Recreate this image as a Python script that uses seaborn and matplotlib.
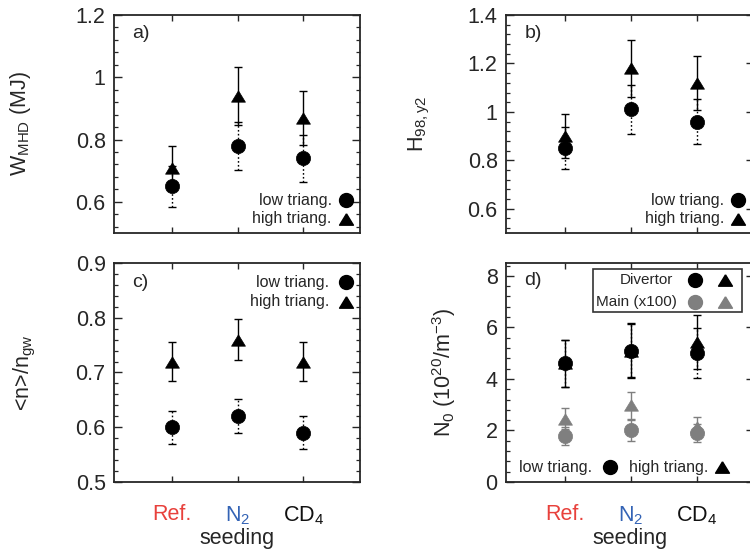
import numpy as np
import pandas as pd
import matplotlib
matplotlib.use("Agg")
import matplotlib.pyplot as plt
from matplotlib.ticker import FuncFormatter, AutoMinorLocator, MultipleLocator
from matplotlib.patches import Rectangle
import seaborn as sns

# ---------------- data ----------------
categories = ["Ref.", "N$_2$", "CD$_4$"]
cat_colors = ["#e8413c", "#3363b5", "#111111"]

wmhd_low = [0.65, 0.78, 0.74]
wmhd_low_err = [0.066, 0.078, 0.075]
wmhd_high = [0.71, 0.94, 0.87]
wmhd_high_err = [0.07, 0.092, 0.086]

h98_low = [0.85, 1.01, 0.96]
h98_low_err = [0.087, 0.10, 0.094]
h98_high = [0.90, 1.18, 1.12]
h98_high_err = [0.09, 0.117, 0.112]

dens_low = [0.60, 0.62, 0.59]
dens_low_err = [0.03, 0.031, 0.03]
dens_high = [0.72, 0.76, 0.72]
dens_high_err = [0.036, 0.038, 0.036]

n0_div_low = [4.6, 5.1, 5.0]
n0_div_low_err = [0.9, 1.02, 0.98]
n0_div_high = [4.6, 5.1, 5.43]
n0_div_high_err = [0.92, 1.08, 1.06]
n0_main_low = [1.8, 2.0, 1.9]
n0_main_low_err = [0.35, 0.4, 0.35]
n0_main_high = [2.46, 2.97, 2.13]
n0_main_high_err = [0.42, 0.52, 0.39]

# ---------------- style ----------------
sns.set_style("ticks")
plt.rcParams["font.family"] = ["Liberation Sans", "DejaVu Sans"]
plt.rcParams["mathtext.fontset"] = "custom"
plt.rcParams["mathtext.rm"] = "Liberation Sans"
plt.rcParams["mathtext.it"] = "Liberation Sans:italic"
plt.rcParams["mathtext.default"] = "rm"
plt.rcParams["axes.linewidth"] = 1.3

GRAY = "#7f7f7f"
TRI = [(0, 0.82), (-1, -0.82), (1, -0.82), (0, 0.82)]
pos = np.arange(len(categories))

fig = plt.figure(figsize=(7.5, 5.51), dpi=100)
W, H = 750.0, 551.0


def add_axes(l, t, r, b):
    return fig.add_axes([l / W, 1 - b / H, (r - l) / W, (b - t) / H])


ax_a = add_axes(114, 15, 360, 233)
ax_b = add_axes(506, 15, 754, 233)
ax_c = add_axes(114, 263, 360, 482)
ax_d = add_axes(506, 263, 754, 482)

fmt = FuncFormatter(lambda v, p: "%g" % round(v, 6))


def series(ax, vals, errs, marker, color, dotted, s):
    df = pd.DataFrame({"x": pos, "y": vals, "err": errs})
    eb = ax.errorbar(df["x"], df["y"], yerr=df["err"], fmt="none",
                     ecolor=color, elinewidth=1.0, capsize=3, capthick=1.0,
                     zorder=2)
    if dotted:
        for lc in eb[2]:
            lc.set_linestyle((0, (1.2, 1.6)))
    sns.scatterplot(data=df, x="x", y="y", marker=marker, color=color,
                    s=s, edgecolor=color, linewidth=0.5, ax=ax, zorder=3,
                    legend=False)


def style_axis(ax, ylim, major, nminor, show_x, xlim=(-0.88, 2.86)):
    ax.set_xlim(*xlim)
    ax.set_ylim(*ylim)
    ax.yaxis.set_major_locator(MultipleLocator(major))
    ax.yaxis.set_minor_locator(AutoMinorLocator(nminor))
    ax.yaxis.set_major_formatter(fmt)
    ax.set_xticks(pos)
    ax.tick_params(axis="y", which="major", direction="in", length=5.5,
                   width=1.0, left=True, right=True, labelsize=15.5, pad=6)
    ax.tick_params(axis="y", which="minor", direction="in", length=2.8,
                   width=0.9, left=True, right=True)
    ax.tick_params(axis="x", which="major", direction="in", length=4,
                   width=1.0, bottom=True, top=True, labelsize=15.5, pad=16)
    ax.tick_params(axis="x", which="minor", bottom=False, top=False)
    if show_x:
        ax.set_xticklabels(categories)
        for lab, c in zip(ax.get_xticklabels(), cat_colors):
            lab.set_color(c)
        ax.set_xlabel("seeding", fontsize=15.5)
        ax.xaxis.set_label_coords(0.5, -0.21)
        ax.xaxis.label.set_va("top")
    else:
        ax.set_xticklabels([])
        ax.set_xlabel("")
    ax.set_ylabel("")
    for sp in ax.spines.values():
        sp.set_visible(True)
        sp.set_linewidth(1.3)


def tri_legend(ax, y_low, y_high, x_text, x_mark):
    kw = dict(transform=ax.transAxes, fontsize=11.5, ha="right", va="center")
    ax.text(x_text, y_low, "low triang.", **kw)
    ax.text(x_text, y_high, "high triang.", **kw)
    ax.plot([x_mark], [y_low], marker="o", ms=10, color="black",
            transform=ax.transAxes, clip_on=False, zorder=5)
    ax.plot([x_mark], [y_high], marker=TRI, ms=10, color="black",
            transform=ax.transAxes, clip_on=False, zorder=5)


S_TRI, S_CIR = 100, 105

# ---- a) ----
series(ax_a, wmhd_high, wmhd_high_err, TRI, "black", False, S_TRI)
series(ax_a, wmhd_low, wmhd_low_err, "o", "black", True, S_CIR)
style_axis(ax_a, (0.5, 1.2), 0.2, 5, False)
ax_a.text(0.075, 0.915, "a)", transform=ax_a.transAxes, fontsize=14,
          va="center")
tri_legend(ax_a, 0.15, 0.065, 0.885, 0.945)
ax_a.set_ylabel("W$_{MHD}$ (MJ)", fontsize=15.5)
ax_a.yaxis.set_label_coords(-0.33, 0.5)

# ---- b) ----
series(ax_b, h98_high, h98_high_err, TRI, "black", False, S_TRI)
series(ax_b, h98_low, h98_low_err, "o", "black", True, S_CIR)
style_axis(ax_b, (0.5, 1.4), 0.2, 5, False, xlim=(-0.89, 2.87))
ax_b.text(0.075, 0.915, "b)", transform=ax_b.transAxes, fontsize=14,
          va="center")
tri_legend(ax_b, 0.15, 0.065, 0.88, 0.935)
ax_b.set_ylabel("H$_{98,y2}$", fontsize=15.5)
ax_b.yaxis.set_label_coords(-0.30, 0.5)

# ---- c) ----
series(ax_c, dens_high, dens_high_err, TRI, "black", False, S_TRI)
series(ax_c, dens_low, dens_low_err, "o", "black", True, S_CIR)
style_axis(ax_c, (0.5, 0.9), 0.1, 5, True)
ax_c.text(0.075, 0.913, "c)", transform=ax_c.transAxes, fontsize=14,
          va="center")
tri_legend(ax_c, 0.912, 0.822, 0.875, 0.945)
ax_c.set_ylabel("<n>/n$_{gw}$", fontsize=15.5)
ax_c.yaxis.set_label_coords(-0.31, 0.5)
ax_c.get_xticklines()[2].set_color(cat_colors[1])

# ---- d) ----
series(ax_d, n0_main_high, n0_main_high_err, TRI, GRAY, False, S_TRI)
series(ax_d, n0_main_low, n0_main_low_err, "o", GRAY, False, S_CIR)
series(ax_d, n0_div_high, n0_div_high_err, TRI, "black", False, S_TRI)
series(ax_d, n0_div_low, n0_div_low_err, "o", "black", True, S_CIR)
style_axis(ax_d, (0, 8.5), 2, 5, True, xlim=(-0.89, 2.87))
ax_d.text(0.075, 0.918, "d)", transform=ax_d.transAxes, fontsize=14,
          va="center")
ax_d.set_ylabel("N$_0$ (10$^{20}$/m$^{-3}$)", fontsize=15.5)
ax_d.yaxis.set_label_coords(-0.195, 0.5)

# box legend
ax_d.add_patch(Rectangle((0.351, 0.776), 0.6, 0.197, transform=ax_d.transAxes,
                         facecolor="white", edgecolor="#333333", lw=1.2,
                         zorder=6))
kw = dict(transform=ax_d.transAxes, fontsize=11, ha="right", va="center",
          zorder=7)
ax_d.text(0.672, 0.922, "Divertor", **kw)
ax_d.text(0.69, 0.822, "Main (x100)", **kw)
for yy, c in [(0.922, "black"), (0.822, GRAY)]:
    ax_d.plot([0.762], [yy], marker="o", ms=10, color=c,
              transform=ax_d.transAxes, zorder=8, clip_on=False)
    ax_d.plot([0.883], [yy], marker=TRI, ms=10, color=c,
              transform=ax_d.transAxes, zorder=8, clip_on=False)

# bottom legend
kw2 = dict(transform=ax_d.transAxes, fontsize=11.5, ha="right", va="center")
ax_d.text(0.347, 0.068, "low triang.", **kw2)
ax_d.text(0.815, 0.068, "high triang.", **kw2)
ax_d.plot([0.419], [0.068], marker="o", ms=10, color="black",
          transform=ax_d.transAxes, zorder=8)
ax_d.plot([0.871], [0.068], marker=TRI, ms=10, color="black",
          transform=ax_d.transAxes, zorder=8)

fig.savefig("out.png", dpi=100)
